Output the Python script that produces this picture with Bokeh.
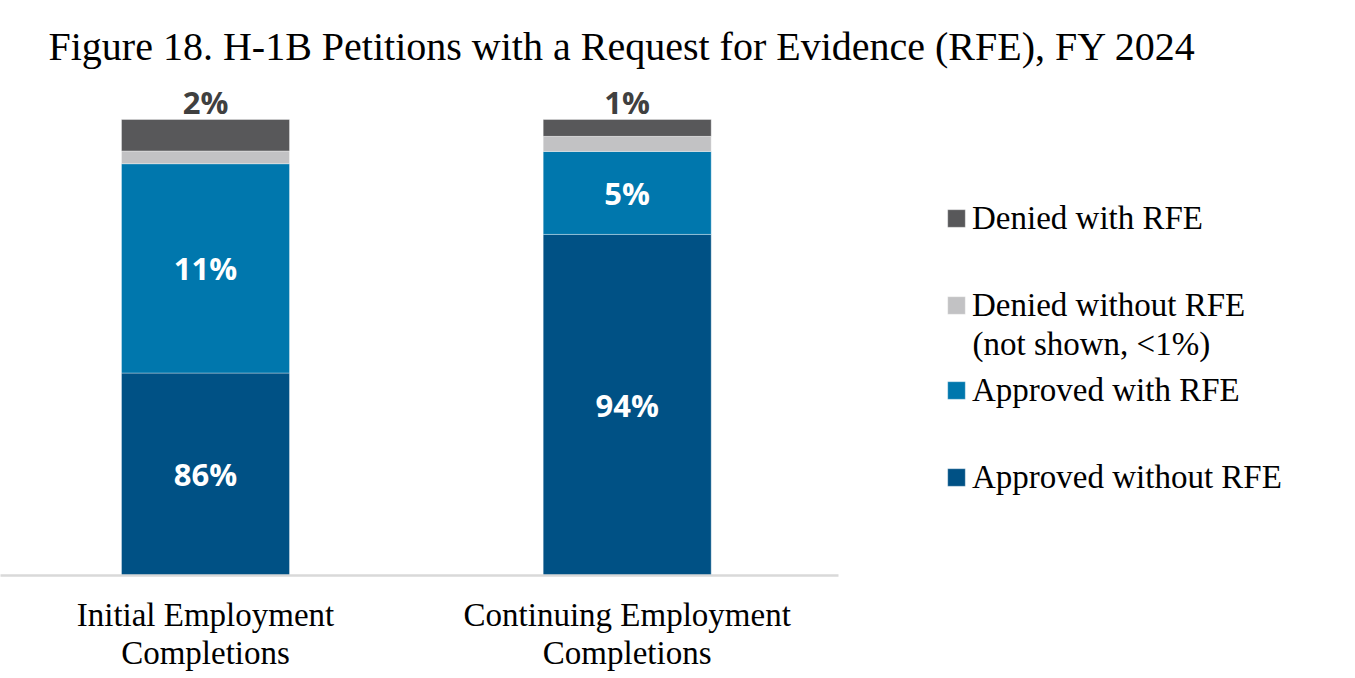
from bokeh.plotting import figure
from bokeh.models import Range1d, FixedTicker, Legend, LegendItem, ColumnDataSource, Label
from bokeh.core.properties import value
from bokeh.embed import file_html
from bokeh.resources import INLINE

# ---- data ----
categories = ["Initial Employment\nCompletions", "Continuing Employment\nCompletions"]
series = ["Approved without RFE", "Approved with RFE", "Denied without RFE", "Denied with RFE"]
legend_note = "(not shown, <1%)"
# segment heights as drawn (share of bar height, %)
approved_without = [44.4, 74.8]
approved_with = [45.9, 18.2]
denied_without = [2.8, 3.3]
denied_with = [6.9, 3.7]
# printed labels
label_approved_without = ["86%", "94%"]
label_approved_with = ["11%", "5%"]
label_denied_with = ["2%", "1%"]

colors = ["#005185", "#0077AD", "#C2C2C4", "#58585A"]
x_pos = [0, 1]

data = dict(x=x_pos,
            **{series[0]: approved_without, series[1]: approved_with,
               series[2]: denied_without, series[3]: denied_with})
src = ColumnDataSource(data)

LEFT = 0
TOP = 80
PX_PER_X = 421.7
FRAME_W = 1339
x_start = -(205 - LEFT) / PX_PER_X
x_end = x_start + FRAME_W / PX_PER_X
FRAME_H = 495
PX_PER_Y = 4.56
y_end = FRAME_H / PX_PER_Y

p = figure(frame_width=FRAME_W, frame_height=FRAME_H,
           x_range=Range1d(x_start, x_end), y_range=Range1d(0, y_end),
           output_backend="svg", toolbar_location=None,
           y_axis_location=None, min_border_left=LEFT, min_border_right=0,
           min_border_top=TOP, min_border_bottom=0,
           title="Figure 18. H-1B Petitions with a Request for Evidence (RFE), FY 2024")
p.outline_line_color = None
p.grid.visible = False
p.background_fill_color = "white"
p.border_fill_color = "white"

p.title.text_font = "Liberation Serif"
p.title.text_font_size = "40px"
p.title.text_font_style = "normal"
p.title.text_color = "#000000"
p.title.align = "left"
p.title.offset = 48
p.title.standoff = 23

bar_w = 168 / PX_PER_X
rs = p.vbar_stack(series, x="x", width=bar_w, color=colors, source=src,
                  line_color="white", line_alpha=0.35, line_width=1)

# axis
ax = p.xaxis[0]
ax.ticker = FixedTicker(ticks=x_pos)
ax.major_label_overrides = {k: v for k, v in zip(x_pos, categories)}
ax.major_tick_line_color = None
ax.minor_tick_line_color = None
ax.axis_line_color = "#D9D9D9"
ax.axis_line_width = 2.5
ax.bounds = (x_start, 1.5)
ax.major_label_text_font = "Liberation Serif"
ax.major_label_text_font_size = "33px"
ax.major_label_text_color = "#000000"
ax.major_label_text_line_height = 1.06
ax.major_label_standoff = 15

# labels
b1 = approved_without
tops = [a + b + c + d for a, b, c, d in zip(approved_without, approved_with, denied_without, denied_with)]
c1 = [v / 2 for v in b1]
c2 = [a + b / 2 for a, b in zip(b1, approved_with)]
common = dict(text_font=value("Open Sans"), text_font_style="bold", text_font_size="31px",
              text_align="center", text_baseline="middle")
p.text(x=x_pos, y=c1, text=label_approved_without, text_color="white", **common)
p.text(x=x_pos, y=c2, text=label_approved_with, text_color="white", **common)
p.text(x=x_pos, y=tops, text=label_denied_with, text_color="#404040", y_offset=-18, **common)

# legends, one per item so the spacing can follow the reference
BASE = TOP + FRAME_H  # page y of the baseline
centers = [477, 390, 305, 218]  # page y of each item's glyph centre
LH = 38
for r, lab, cy in zip(rs, series, centers):
    lg = Legend(items=[LegendItem(label=lab, renderers=[r])],
                location=(945 - LEFT, BASE - cy - LH / 2),
                padding=0, margin=0, spacing=0,
                border_line_color=None, background_fill_alpha=0,
                glyph_width=22, glyph_height=22, label_standoff=5,
                label_text_font="Liberation Serif", label_text_font_size="33px",
                label_text_color="#000000", label_height=LH)
    p.add_layout(lg)

note = Label(x=x_start + (972 - LEFT) / PX_PER_X, y=(BASE - 343) / PX_PER_Y, text=legend_note,
             text_font="Liberation Serif", text_font_size="33px", text_color="#000000",
             text_baseline="middle", text_align="left")
p.add_layout(note)

open("out.html", "w").write(file_html(p, INLINE))
